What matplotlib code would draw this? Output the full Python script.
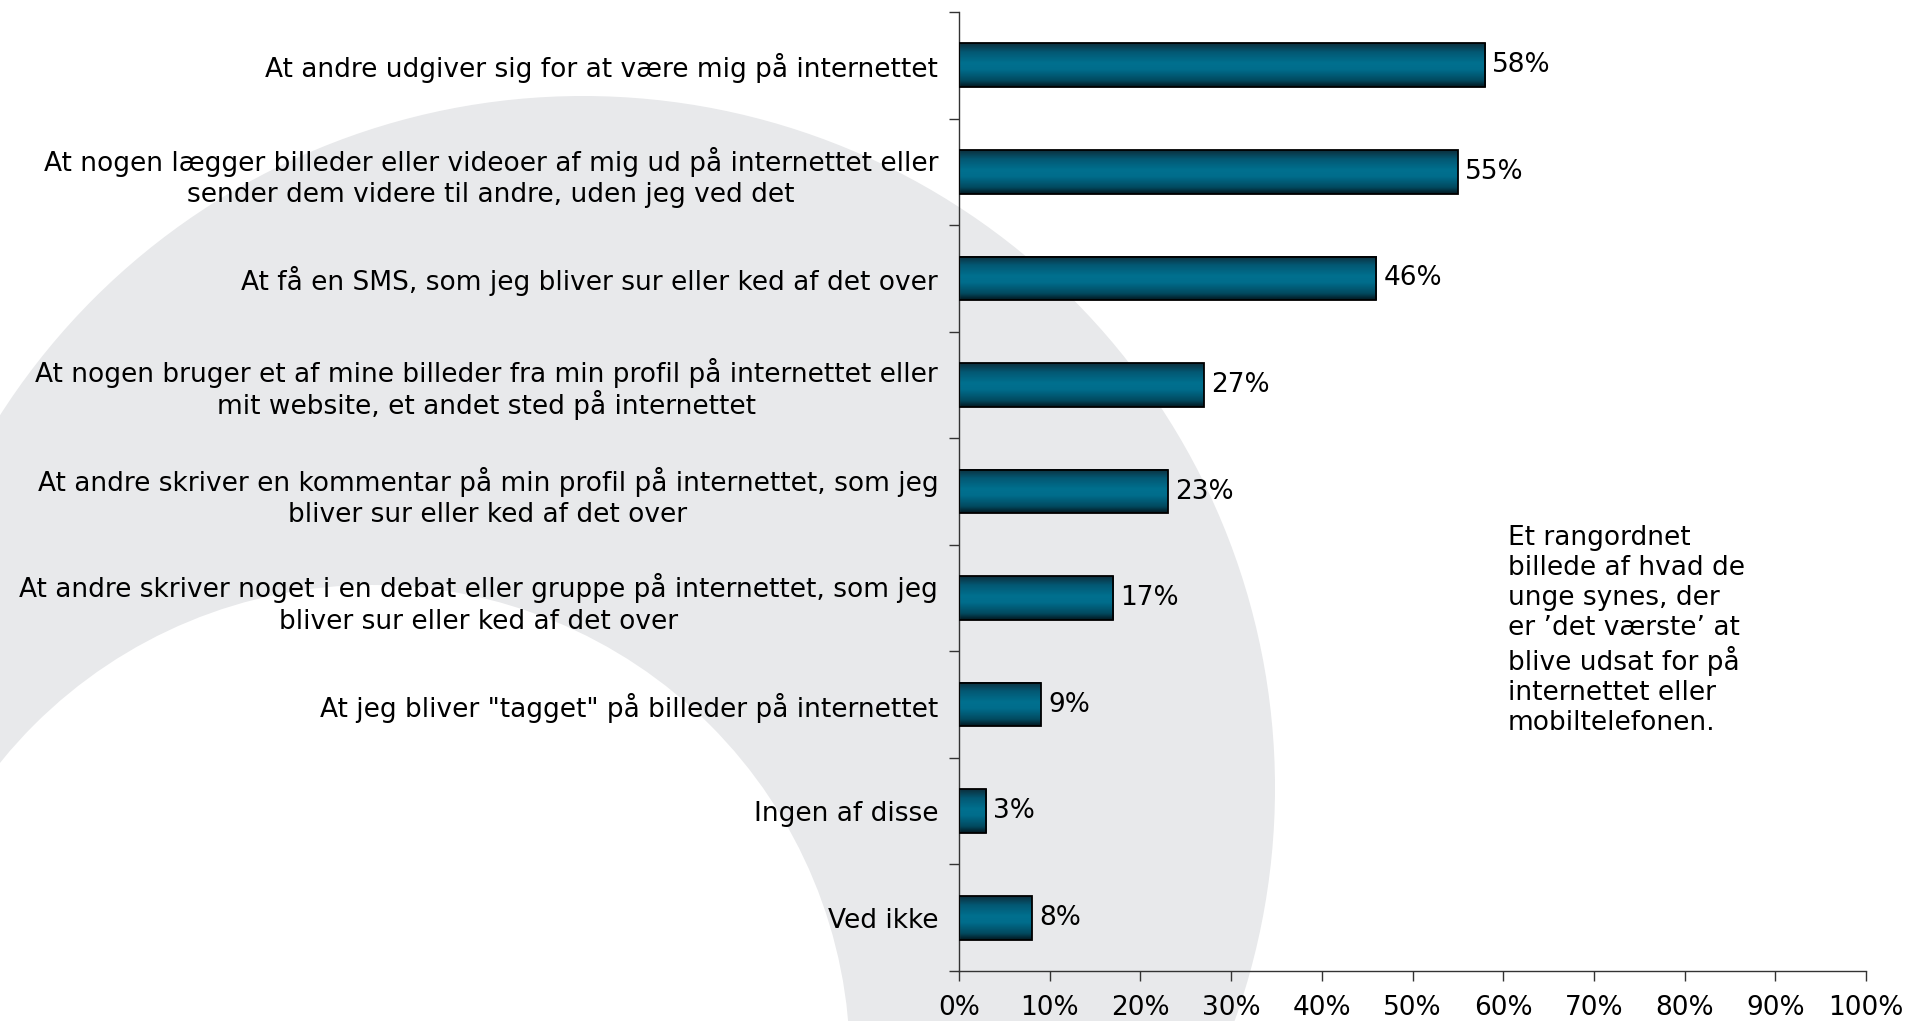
import numpy as np
import matplotlib.pyplot as plt
from matplotlib.patches import Circle
from matplotlib.colors import LinearSegmentedColormap

labels = [
    'At andre udgiver sig for at være mig på internettet',
    'At nogen lægger billeder eller videoer af mig ud på internettet eller\nsender dem videre til andre, uden jeg ved det',
    'At få en SMS, som jeg bliver sur eller ked af det over',
    'At nogen bruger et af mine billeder fra min profil på internettet eller\nmit website, et andet sted på internettet',
    'At andre skriver en kommentar på min profil på internettet, som jeg\nbliver sur eller ked af det over',
    'At andre skriver noget i en debat eller gruppe på internettet, som jeg\nbliver sur eller ked af det over',
    'At jeg bliver "tagget" på billeder på internettet',
    'Ingen af disse',
    'Ved ikke',
]
values = [58, 55, 46, 27, 23, 17, 9, 3, 8]
xticks = [0, 10, 20, 30, 40, 50, 60, 70, 80, 90, 100]
note = ('Et rangordnet\nbillede af hvad de\nunge synes, der\n'
        'er ’det værste’ at\nblive udsat for på\ninternettet eller\nmobiltelefonen.')

plt.rcParams['font.family'] = ['DejaVu Sans']
fs = 19

W, H = 1910, 1021
fig = plt.figure(figsize=(W / 100, H / 100), dpi=100)

# grey arc in the background
bg = fig.add_axes([0, 0, 1, 1], zorder=0)
bg.set_xlim(0, W)
bg.set_ylim(H, 0)
bg.axis('off')
bg.add_patch(Circle((583, 788), 692, color='#e8e9eb', lw=0))
bg.add_patch(Circle((372, 1063), 478, color='white', lw=0))

ax = fig.add_axes([959 / W, 1 - 971 / H, 907 / W, 959 / H], zorder=1)
ax.patch.set_alpha(0)

grad = LinearSegmentedColormap.from_list(
    'bar', [(0, '#0c2f3d'), (0.2, '#035873'), (0.45, '#00708f'),
            (0.6, '#006d8c'), (0.85, '#024a60'), (1, '#021820')])
g = np.linspace(0, 1, 100).reshape(-1, 1)

y = np.arange(len(values))
h = 0.41
for yi, v in zip(y, values):
    ax.imshow(g, cmap=grad, aspect='auto', origin='upper',
              extent=(0, v, yi + h / 2, yi - h / 2), zorder=2)
    ax.text(v + 0.8, yi, f'{v}%', va='center', ha='left', fontsize=fs)
ax.barh(y, values, height=h, color='none', edgecolor='black', lw=1.3, zorder=3)

ax.set_xlim(0, 100)
ax.set_ylim(len(values) - 0.5, -0.5)

ax.set_xticks(xticks)
ax.set_xticklabels([f'{t}%' for t in xticks], fontsize=fs)
ax.tick_params(axis='x', direction='out', length=7, width=1, color='#333333', pad=10)

ax.set_yticks(y)
ax.set_yticklabels(labels, fontsize=fs)
ax.set_yticks(np.arange(len(values) + 1) - 0.5, minor=True)
ax.tick_params(axis='y', which='major', length=0, pad=15)
ax.tick_params(axis='y', which='minor', direction='out', length=7, width=1, color='#333333')
for t in ax.get_yticklabels():
    t.set_multialignment('center')
    # the ring of "å" makes a line taller, so pull such second lines up
    second = t.get_text().split('\n')[1:]
    t.set_linespacing(1.1 if second and 'å' in second[0] else 1.28)

for s in ['top', 'right']:
    ax.spines[s].set_visible(False)
for s in ['left', 'bottom']:
    ax.spines[s].set_color('#333333')
    ax.spines[s].set_linewidth(1)

fig.text(1508 / W, 1 - 525 / H, note, ha='left', va='top', fontsize=fs, linespacing=1.2)

fig.savefig('out.png', dpi=100)
